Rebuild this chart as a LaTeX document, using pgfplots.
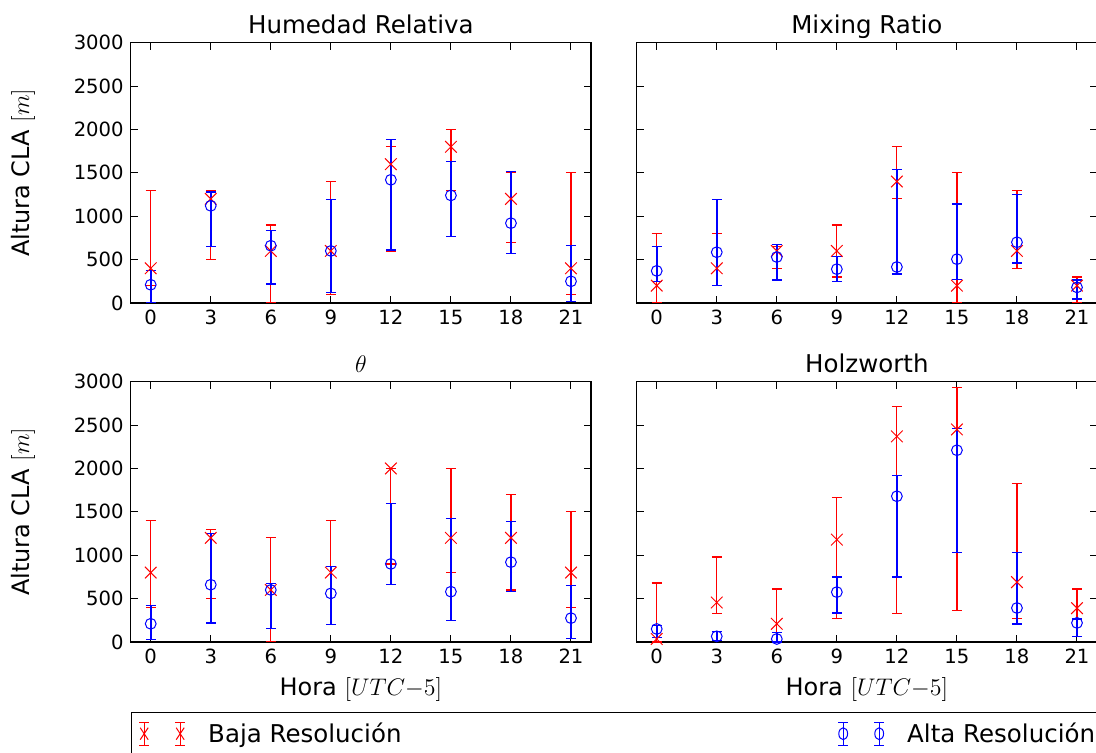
\documentclass[border=0pt]{standalone}
\usepackage{fontspec}
\setmainfont{DejaVu Sans}
\usepackage{pgfplots}
\usepackage{pgfplotstable}
\pgfplotsset{compat=1.18}

% x  y  lo  hi
\pgfplotstableread{
x y lo hi
0 400 200 1300
3 1200 500 1300
6 600 0 900
9 600 100 1400
12 1600 600 1800
15 1800 1300 2000
18 1200 700 1500
21 400 100 1500
}\hrR
\pgfplotstableread{
x y lo hi
0 210 10 370
3 1120 650 1280
6 660 220 840
9 600 125 1190
12 1420 610 1880
15 1240 770 1630
18 920 570 1520
21 250 20 660
}\hrB
\pgfplotstableread{
x y lo hi
0 200 0 800
3 400 200 800
6 600 400 650
9 600 300 900
12 1400 1200 1800
15 200 0 1500
18 600 400 1300
21 200 0 300
}\mrR
\pgfplotstableread{
x y lo hi
0 370 245 650
3 585 200 1190
6 530 265 670
9 390 250 540
12 415 335 1540
15 505 275 1140
18 700 460 1255
21 180 45 265
}\mrB
\pgfplotstableread{
x y lo hi
0 800 400 1400
3 1200 500 1300
6 600 0 1200
9 800 200 1400
12 2000 900 2000
15 1200 800 2000
18 1200 600 1700
21 800 400 1500
}\thR
\pgfplotstableread{
x y lo hi
0 210 25 420
3 660 220 1250
6 600 160 675
9 560 200 870
12 900 665 1600
15 580 245 1420
18 920 580 1390
21 275 40 655
}\thB
\pgfplotstableread{
x y lo hi
0 35 0 680
3 455 325 980
6 210 0 610
9 1180 275 1670
12 2370 330 2710
15 2450 365 2930
18 690 268 1830
21 390 275 610
}\hoR
\pgfplotstableread{
x y lo hi
0 150 50 190
3 65 15 120
6 35 0 105
9 575 334 750
12 1680 750 1920
15 2210 1035 2460
18 392 207 1030
21 220 62 265
}\hoB

\pgfplotsset{
  panel/.style={
    scale only axis, width=230.15pt, height=130.15pt,
    xmin=-1, xmax=22, ymin=0, ymax=3000,
    xtick={0,3,...,21}, ytick={0,500,...,3000},
    tick align=inside, major tick length=3.5pt,
    tick style={black, line width=0.5pt},
    axis line style={line width=0.65pt},
    every tick label/.append style={font=\fontsize{9.8}{11}\selectfont},
    /pgf/number format/1000 sep={},
    /pgf/number format/assume math mode=true,
    title style={font=\fontsize{12.25}{14}\selectfont, at={(axis description cs:0.5,1)}, anchor=base, yshift=-1.5pt},
    label style={font=\fontsize{12}{14}\selectfont},
    ylabel style={at={(axis description cs:-0.234,0.5)}, anchor=center},
    xlabel style={at={(axis description cs:0.5,-0.184)}, anchor=center},
  },
  redser/.style={only marks, mark=x, mark size=4.1pt, color=red,
    mark options={line width=0.5pt, solid},
    error bars/.cd, y dir=both, y explicit,
    error bar style={line width=0.6pt, red},
    error mark options={red, mark size=2.5pt, line width=0.6pt, rotate=90}},
  blueser/.style={only marks, mark=o, mark size=2.7pt, color=blue,
    mark options={line width=0.5pt, solid, fill=none},
    error bars/.cd, y dir=both, y explicit,
    error bar style={line width=0.8pt, blue},
    error mark options={blue, mark size=2.5pt, line width=0.6pt, rotate=90}},
  redleg/.style={legend image code/.code={
    \path[draw=none, fill=none] (0pt,-10pt) rectangle (38.5pt,10pt);
    \foreach \xx in {6.5,24.5}{
      \draw[red, line width=0.5pt] (\xx pt,-5.75pt) -- (\xx pt,5.75pt);
      \draw[red, line width=0.5pt] (\xx pt-2.5pt,-5.75pt) -- (\xx pt+2.5pt,-5.75pt);
      \draw[red, line width=0.5pt] (\xx pt-2.5pt,5.75pt) -- (\xx pt+2.5pt,5.75pt);
      \draw[red, line width=0.5pt] (\xx pt-2pt,-3pt) -- (\xx pt+2pt,3pt);
      \draw[red, line width=0.5pt] (\xx pt-2pt,3pt) -- (\xx pt+2pt,-3pt);
    }}},
  blueleg/.style={legend image code/.code={
    \path[draw=none, fill=none] (0pt,-10pt) rectangle (38.5pt,10pt);
    \foreach \xx in {6.5,24.5}{
      \draw[blue, line width=0.5pt] (\xx pt,-5.75pt) -- (\xx pt,5.75pt);
      \draw[blue, line width=0.5pt] (\xx pt-2.5pt,-5.75pt) -- (\xx pt+2.5pt,-5.75pt);
      \draw[blue, line width=0.5pt] (\xx pt-2.5pt,5.75pt) -- (\xx pt+2.5pt,5.75pt);
      \draw[blue, line width=0.5pt, fill=none] (\xx pt,0pt) ellipse (2.2pt and 3pt);
    }}},
}

\newcommand{\ebplot}[2]{%
  \addplot+[#1] table[x=x, y=y,
    y error plus expr=\thisrow{hi}-\thisrow{y},
    y error minus expr=\thisrow{y}-\thisrow{lo}] {#2};}

\begin{document}
\begin{tikzpicture}
\begin{axis}[panel, at={(65.35pt,-21.35pt)}, anchor=north west,
  title={Humedad Relativa}, ylabel={Altura CLA $[m]$}]
\ebplot{redser}{\hrR}
\ebplot{blueser}{\hrB}
\end{axis}
\begin{axis}[panel, at={(318.35pt,-21.35pt)}, anchor=north west,
  title={Mixing Ratio}, yticklabels={}]
\ebplot{redser}{\mrR}
\ebplot{blueser}{\mrB}
\end{axis}
\begin{axis}[panel, at={(65.35pt,-190.85pt)}, anchor=north west,
  title={$\theta$}, ylabel={Altura CLA $[m]$}, xlabel={Hora $[UTC{-}5]$},
  legend columns=2,
  legend style={at={(axis description cs:0,-0.2705)}, anchor=north west,
    draw=black, line width=0.5pt, inner xsep=0pt, inner ysep=0.4pt,
    nodes={inner sep=0pt, draw=none}, cells={anchor=west},
    font=\fontsize{12.25}{14}\selectfont}]
\ebplot{redleg, redser}{\thR}
\addlegendentry{\makebox[311pt][l]{Baja Resolución}}
\ebplot{blueleg, blueser}{\thB}
\addlegendentry{\makebox[100pt][l]{Alta Resolución}}
\end{axis}
\begin{axis}[panel, at={(318.35pt,-190.85pt)}, anchor=north west,
  title={Holzworth}, yticklabels={}, xlabel={Hora $[UTC{-}5]$}]
\ebplot{redser}{\hoR}
\ebplot{blueser}{\hoB}
\end{axis}
\pgfresetboundingbox
\path[use as bounding box] (0pt,0pt) rectangle (548pt,-376.5pt);
\end{tikzpicture}
\end{document}
